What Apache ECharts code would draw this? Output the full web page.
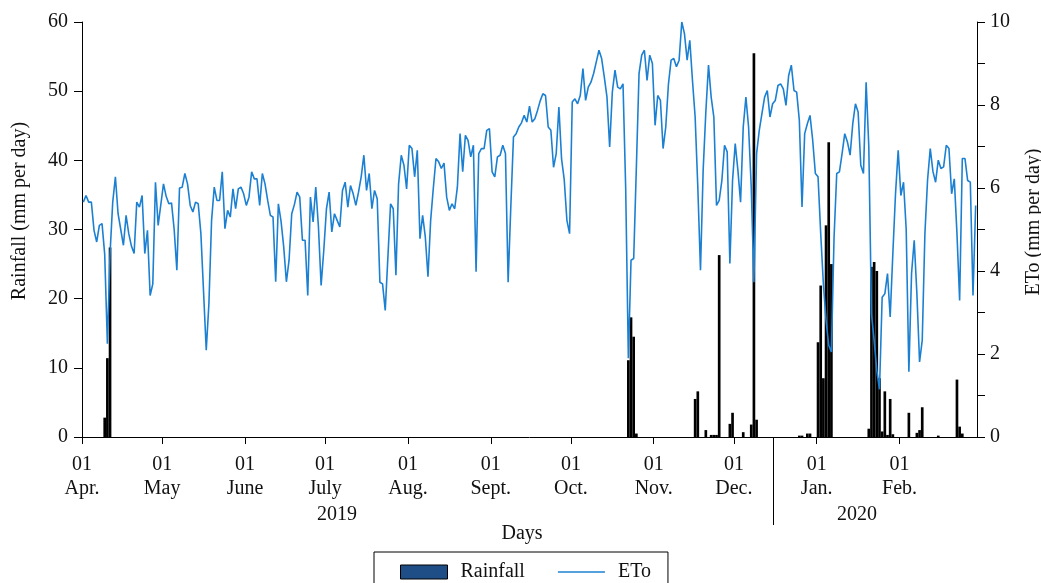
<!DOCTYPE html>
<html><head><meta charset="utf-8">
<script src="https://cdn.jsdelivr.net/npm/echarts@6/dist/echarts.min.js"></script>
<style>html,body{margin:0;padding:0;background:#fff}#c{width:1041px;height:583px}</style>
</head><body><div id="c"></div>
<script>
// ---- DATA ----
const startYear = 2019, startMonth = 4, dayCount = 335; // 2019-04-01 .. 2020-02-29
const monthTickLabels = ['Apr.','May','June','July','Aug.','Sept.','Oct.','Nov.','Dec.','Jan.','Feb.'];
const yearLabels = ['2019', '2020'];
const rainTicks = [0, 10, 20, 30, 40, 50, 60];
const etoTicks = [0, 2, 4, 6, 8, 10];

const etoApr = [5.66,5.82,5.66,5.66,4.98,4.70,5.10,5.14,4.40,2.25,4.42,5.66,6.27,5.38,5.00,4.62,5.34,4.90,4.60,4.42,5.66,5.54,5.82,4.42,4.98,3.41,3.69,6.14,5.10,5.60];
const etoMay = [6.10,5.80,5.62,5.64,5.00,4.02,6.00,6.02,6.35,6.10,5.58,5.42,5.66,5.62,4.90,3.50,2.09,3.21,5.22,6.02,5.70,5.70,6.39,5.02,5.46,5.30,5.98,5.50,5.98,6.02,5.86];
const etoJun = [5.58,5.78,6.39,6.22,6.22,5.58,6.35,6.10,5.70,5.34,5.30,3.74,5.62,5.20,4.58,3.74,4.26,5.38,5.60,5.90,5.78,4.74,4.74,3.41,5.78,5.18,6.02,5.06,3.65,4.50];
const etoJul = [5.50,5.90,4.94,5.38,5.22,5.06,5.94,6.14,5.54,6.06,5.86,5.58,5.90,6.27,6.79,5.94,6.35,5.50,5.94,5.74,3.73,3.69,3.05,4.34,5.62,5.50,3.90,6.10,6.79,6.55,5.98];
const etoAug = [7.03,6.95,6.27,6.91,4.78,5.34,4.82,3.86,5.22,6.00,6.71,6.63,6.47,6.60,5.78,5.46,5.62,5.50,6.02,7.31,6.39,7.27,7.15,6.75,7.03,3.98,6.83,6.95,6.95,7.39,7.43];
const etoSep = [6.39,6.27,6.75,6.79,7.03,6.83,3.73,5.54,7.23,7.31,7.47,7.57,7.75,7.59,7.97,7.59,7.67,7.87,8.10,8.27,8.23,7.47,7.39,6.50,6.83,7.95,6.70,6.20,5.22,4.90];
const etoOct = [8.07,8.15,8.03,8.23,8.88,8.11,8.43,8.55,8.76,9.04,9.32,9.12,8.67,8.19,6.99,8.31,8.84,8.43,8.39,8.51,6.00,1.90,4.26,4.30,6.50,8.76,9.20,9.32,8.59,9.20,9.00];
const etoNov = [7.51,8.23,8.11,6.95,7.47,8.50,9.08,9.12,8.92,9.08,10.00,9.72,9.08,9.56,8.59,7.71,6.02,4.02,6.43,7.83,8.96,8.19,7.71,5.58,5.70,6.18,7.03,6.87,4.18,6.18];
const etoDec = [7.07,6.43,5.66,7.47,8.19,7.47,6.02,3.73,6.83,7.39,7.79,8.19,8.35,7.71,8.03,8.11,8.47,8.51,8.39,7.99,8.71,8.96,8.35,8.31,7.63,5.54,7.31,7.55,7.75,7.15,6.35];
const etoJan = [6.27,4.90,3.69,2.81,2.21,2.05,4.82,6.35,6.39,6.83,7.31,7.11,6.79,7.55,8.03,7.83,6.55,6.35,8.55,7.00,2.97,2.33,1.60,1.15,3.37,3.45,3.94,2.89,4.42,5.86,6.91];
const etoFeb = [5.82,6.14,5.00,1.57,3.94,4.74,3.45,1.81,2.33,4.90,6.20,6.95,6.40,6.14,6.67,6.47,6.51,7.03,6.95,5.86,6.22,4.90,3.29,6.71,6.71,6.18,6.14,3.41,5.58];

const rainDates = ['2019-04-09','2019-04-10','2019-04-11',
  '2019-10-22','2019-10-23','2019-10-24','2019-10-25',
  '2019-11-16','2019-11-17','2019-11-20','2019-11-22','2019-11-23','2019-11-24','2019-11-25','2019-11-29','2019-11-30',
  '2019-12-04','2019-12-07','2019-12-08','2019-12-09','2019-12-25','2019-12-26','2019-12-28','2019-12-29',
  '2020-01-01','2020-01-02','2020-01-03','2020-01-04','2020-01-05','2020-01-06',
  '2020-01-20','2020-01-21','2020-01-22','2020-01-23','2020-01-24','2020-01-25','2020-01-26','2020-01-27','2020-01-28','2020-01-29',
  '2020-02-04','2020-02-07','2020-02-08','2020-02-09','2020-02-15','2020-02-22','2020-02-23','2020-02-24'];
const rainValues = [2.8,11.4,27.4,
  11.1,17.3,14.5,0.5,
  5.5,6.6,1.0,0.3,0.3,0.3,26.3,1.9,3.5,
  0.7,1.8,55.5,2.5,0.2,0.2,0.5,0.5,
  13.7,21.9,8.5,30.6,42.6,25.0,
  1.2,24.6,25.3,24.0,8.5,0.8,6.6,0.3,5.5,0.4,
  3.5,0.6,1.0,4.3,0.2,8.3,1.5,0.5];

// ---- BUILD ----
const DAY = 86400000;
const t0 = Date.UTC(startYear, startMonth - 1, 1);
const dates = [];
for (let i = 0; i < dayCount; i++) dates.push(new Date(t0 + i * DAY).toISOString().slice(0, 10));
const monthStarts = [];
dates.forEach((d, i) => { if (d.slice(8) === '01') monthStarts.push(i); });
const etoAll = [].concat(etoApr, etoMay, etoJun, etoJul, etoAug, etoSep, etoOct, etoNov, etoDec, etoJan, etoFeb);
const rainMap = {};
rainDates.forEach((d, i) => rainMap[d] = rainValues[i]);
// each day occupies [i, i+1] on the axis; the mark sits at its centre
const etoData = etoAll.map((v, i) => [i + 0.5, v]);
const rainData = dates.map((d, i) => [i + 0.5, rainMap[d] !== undefined ? rainMap[d] : 0]);
const dayIndexOf = d => Math.round((Date.UTC(+d.slice(0, 4), +d.slice(5, 7) - 1, +d.slice(8)) - t0) / DAY);

const FONT = 'Liberation Serif';
const TXT = '#111';

const chart = echarts.init(document.getElementById('c'), null, {renderer: 'canvas'});
const option = {
  animation: false,
  backgroundColor: '#fff',
  grid: {left: 82, right: 64, top: 22, bottom: 146},
  legend: {
    left: 374, top: 552,
    borderColor: '#000', borderWidth: 1,
    padding: [10, 17, 12, 26],
    itemGap: 33, itemWidth: 47, itemHeight: 14,
    symbolKeepAspect: true,
    textStyle: {fontFamily: FONT, fontSize: 20, color: TXT, padding: [0, 0, 0, 8]},
    data: [
      {name: 'Rainfall', icon: 'rect', itemStyle: {color: '#1f4e86', borderColor: '#000', borderWidth: 1}},
      {name: 'ETo', icon: 'path://M0 0 H48 V1.7 H0 Z', itemStyle: {color: '#1c80d2'}}
    ]
  },
  xAxis: {
    type: 'value', min: 0, max: dayCount,
    axisLine: {show: true, onZero: false, lineStyle: {color: '#000', width: 1}},
    axisTick: {show: true, length: 7, lineStyle: {color: '#000'}, customValues: monthStarts},
    axisLabel: {
      customValues: monthStarts, margin: 16, lineHeight: 24,
      fontFamily: FONT, fontSize: 20, color: TXT,
      formatter: v => '01\n' + monthTickLabels[monthStarts.indexOf(Math.round(v))]
    },
    splitLine: {show: false}
  },
  yAxis: [
    {
      type: 'value', min: rainTicks[0], max: rainTicks[rainTicks.length - 1], interval: 10, position: 'left',
      axisLine: {show: true, lineStyle: {color: '#000'}},
      axisTick: {show: true, length: 8, lineStyle: {color: '#000'}},
      axisLabel: {fontFamily: FONT, fontSize: 20, color: TXT, margin: 14},
      splitLine: {show: false}
    },
    {
      type: 'value', min: etoTicks[0], max: etoTicks[etoTicks.length - 1], interval: 1, position: 'right',
      axisLine: {show: true, lineStyle: {color: '#000'}},
      axisTick: {show: true, length: 8, lineStyle: {color: '#000'}},
      axisLabel: {fontFamily: FONT, fontSize: 20, color: TXT, margin: 13,
        formatter: v => etoTicks.indexOf(v) >= 0 ? String(v) : ''},
      splitLine: {show: false}
    }
  ],
  series: [
    {name: 'Rainfall', type: 'bar', yAxisIndex: 0, data: rainData, barWidth: '100%',
     itemStyle: {color: '#000'}},
    {name: 'ETo', type: 'line', yAxisIndex: 1, data: etoData, symbol: 'none', showSymbol: false,
     lineStyle: {color: '#1c80d2', width: 1.6}, itemStyle: {color: '#1c80d2'}}
  ],
  graphic: [
    {type: 'text', x: 20, y: 211, rotation: Math.PI / 2,
     style: {text: 'Rainfall (mm per day)', fontFamily: FONT, fontSize: 20, fill: TXT, textAlign: 'center', textVerticalAlign: 'middle'}},
    {type: 'text', x: 1034, y: 222, rotation: Math.PI / 2,
     style: {text: 'ETo (mm per day)', fontFamily: FONT, fontSize: 20, fill: TXT, textAlign: 'center', textVerticalAlign: 'middle'}},
    {type: 'text', x: 337, y: 515,
     style: {text: yearLabels[0], fontFamily: FONT, fontSize: 20, fill: TXT, textAlign: 'center', textVerticalAlign: 'middle'}},
    {type: 'text', x: 857, y: 515,
     style: {text: yearLabels[1], fontFamily: FONT, fontSize: 20, fill: TXT, textAlign: 'center', textVerticalAlign: 'middle'}},
    {type: 'text', x: 522, y: 534,
     style: {text: 'Days', fontFamily: FONT, fontSize: 20, fill: TXT, textAlign: 'center', textVerticalAlign: 'middle'}},
    {type: 'line', id: 'sep', shape: {x1: 772.5, y1: 437, x2: 772.5, y2: 525}, style: {stroke: '#000', lineWidth: 1}}
  ]
};
chart.setOption(option);
// year separator drawn at the middle of 15 Dec, located through the axis scale
const sepX = chart.convertToPixel({xAxisIndex: 0}, dayIndexOf('2019-12-15') + 0.5);
if (isFinite(sepX)) {
  const sx = Math.round(sepX) + 0.5;
  chart.setOption({graphic: [{id: 'sep', shape: {x1: sx, y1: 437, x2: sx, y2: 525}}]});
}
</script></body></html>
